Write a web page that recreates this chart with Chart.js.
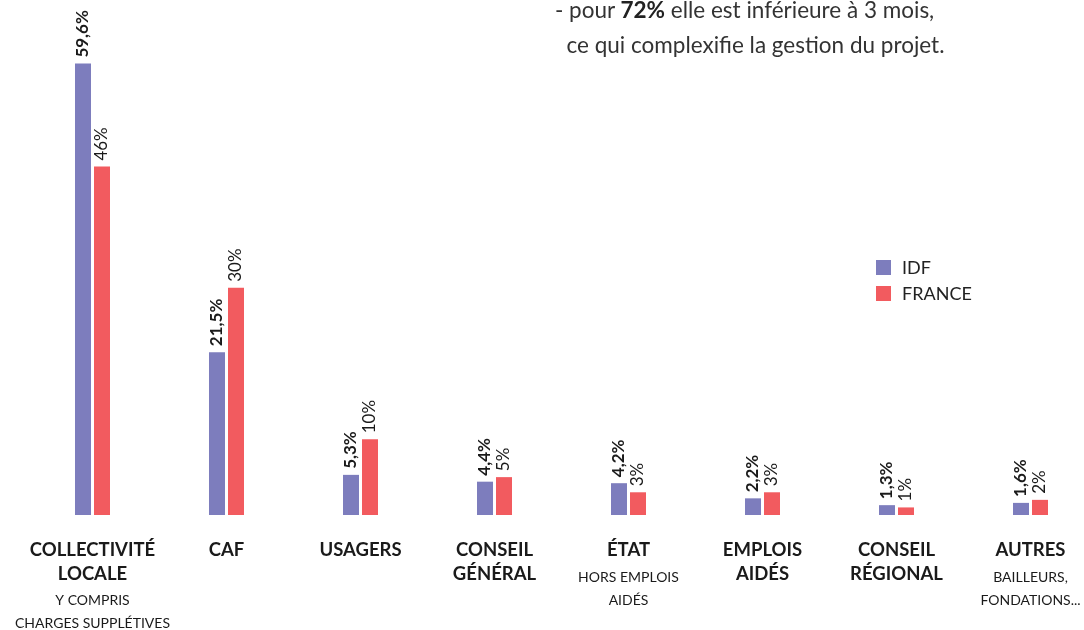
<!DOCTYPE html>
<html>
<head>
<meta charset="utf-8">
<script src="https://cdn.jsdelivr.net/npm/chart.js@4"></script>
<style>
	html, body { margin:0; padding:0; background:#fff; overflow:hidden; }
	#wrap { position:relative; width:1084px; height:630px; }
	#note { position:absolute; left:555px; top:-8px; font-family:Lato, sans-serif; font-size:22.5px; color:#333; line-height:35px; white-space:nowrap; }
	#note b { color:#222; }
</style>
</head>
<body>
<div id="wrap">
	<canvas id="financeChart" width="1084" height="630"></canvas>
	<div id="note">- pour <b>72%</b> elle est inférieure à 3 mois,<br>&nbsp;&nbsp;ce qui complexifie la gestion du projet.</div>
</div>
<script>
var categories = ['COLLECTIVITÉ LOCALE', 'CAF', 'USAGERS', 'CONSEIL GÉNÉRAL', 'ÉTAT', 'EMPLOIS AIDÉS', 'CONSEIL RÉGIONAL', 'AUTRES'];
var titleLines = [['COLLECTIVITÉ','LOCALE'], ['CAF'], ['USAGERS'], ['CONSEIL','GÉNÉRAL'], ['ÉTAT'], ['EMPLOIS','AIDÉS'], ['CONSEIL','RÉGIONAL'], ['AUTRES']];
var subLines = [['Y COMPRIS','CHARGES SUPPLÉTIVES'], [], [], [], ['HORS EMPLOIS','AIDÉS'], [], [], ['BAILLEURS,','FONDATIONS...']];
var idfValues = [59.6, 21.5, 5.3, 4.4, 4.2, 2.2, 1.3, 1.6];
var franceValues = [46, 30, 10, 5, 3, 3, 1, 2];
var seriesNames = ['IDF', 'FRANCE'];

var page = {};
page.colors = ['#7d7dbd', '#f25b5f'];

page.formatValue = function(v){
	return String(v).replace('.', ',') + '%';
};

// labels rotated above each bar
page.valueLabels = {
	id: 'valueLabels',
	afterDatasetsDraw: function(chart){
		var ctx = chart.ctx;
		chart.data.datasets.forEach(function(ds, i){
			var meta = chart.getDatasetMeta(i);
			meta.data.forEach(function(bar, j){
				ctx.save();
				ctx.translate(bar.x, bar.y - 6);
				ctx.rotate(-Math.PI/2);
				ctx.font = (i == 0 ? 'bold ' : '') + '17px Lato, sans-serif';
				ctx.fillStyle = '#1a1a1a';
				ctx.textAlign = 'left';
				ctx.textBaseline = 'middle';
				ctx.fillText(page.formatValue(ds.data[j]), 0, 0);
				ctx.restore();
			});
		});
	}
};

// category names under the bars, bold title + small subtitle
page.categoryLabels = {
	id: 'categoryLabels',
	afterDraw: function(chart){
		var ctx = chart.ctx;
		var xScale = chart.scales.x;
		ctx.save();
		ctx.fillStyle = '#1a1a1a';
		ctx.textAlign = 'center';
		ctx.textBaseline = 'middle';
		for (var i = 0; i < categories.length; i++)
		{
			var x = xScale.getPixelForValue(i);
			var y = 550;
			ctx.font = 'bold 18.5px Lato, sans-serif';
			titleLines[i].forEach(function(t){
				ctx.fillText(t, x, y);
				y += 24;
			});
			y = titleLines[i].length > 1 ? 600 : 577;
			ctx.font = '14px Lato, sans-serif';
			subLines[i].forEach(function(t){
				ctx.fillText(t, x, y);
				y += 23;
			});
		}
		ctx.restore();
	}
};

page.legendBox = {
	id: 'legendBox',
	afterDraw: function(chart){
		var ctx = chart.ctx;
		ctx.save();
		ctx.textBaseline = 'middle';
		ctx.font = '18px Lato, sans-serif';
		for (var i = 0; i < seriesNames.length; i++)
		{
			var y = 260 + i * 26;
			ctx.fillStyle = page.colors[i];
			ctx.fillRect(876, y, 15, 15);
			ctx.fillStyle = '#222';
			ctx.fillText(seriesNames[i], 902, y + 8);
		}
		ctx.restore();
	}
};

page.init = function(){
	var ctx = document.getElementById('financeChart');
	page.chart = new Chart(ctx, {
		type: 'bar',
		data: {
			labels: categories,
			datasets: [
				{ label: seriesNames[0], data: idfValues, backgroundColor: page.colors[0], clip: false },
				{ label: seriesNames[1], data: franceValues, backgroundColor: page.colors[1], clip: false }
			]
		},
		options: {
			responsive: false,
			animation: false,
			layout: { padding: { left: 92.5, right: 53.5, top: 0, bottom: 115 } },
			datasets: { bar: { categoryPercentage: 0.2836, barPercentage: 0.842 } },
			scales: {
				x: { display: false, offset: false },
				y: { display: false, min: 0, max: 68 }
			},
			plugins: {
				legend: { display: false },
				tooltip: { enabled: false }
			}
		},
		plugins: [page.valueLabels, page.categoryLabels, page.legendBox]
	});
};

page.init();
</script>
</body>
</html>
